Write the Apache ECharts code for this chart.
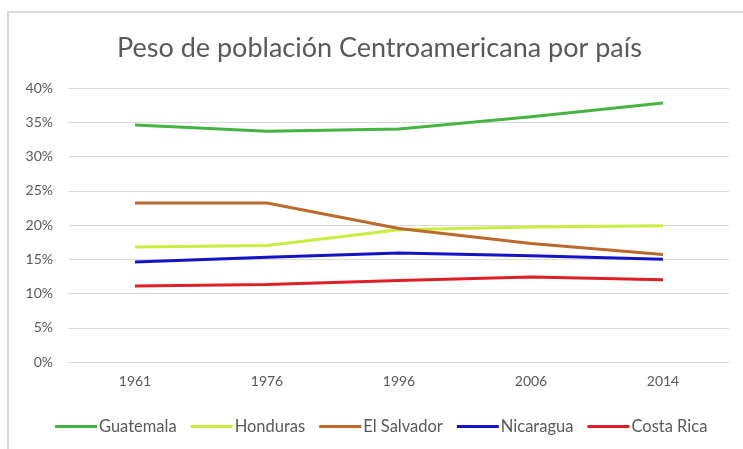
<!DOCTYPE html>
<html><head><meta charset="utf-8">
<script src="https://cdn.jsdelivr.net/npm/echarts@6/dist/echarts.min.js"></script>
<style>html,body{margin:0;padding:0;background:#fff}#c{width:743px;height:449px}</style>
</head><body><div id="c"></div>
<script>
const years = ['1961','1976','1996','2006','2014'];
const seriesNames = ['Guatemala','Honduras','El Salvador','Nicaragua','Costa Rica'];
const guatemala = [34.6, 33.7, 34.0, 35.8, 37.8];
const honduras = [16.8, 17.0, 19.3, 19.7, 19.9];
const elSalvador = [23.2, 23.2, 19.5, 17.3, 15.7];
const nicaragua = [14.6, 15.3, 15.9, 15.5, 15.0];
const costaRica = [11.1, 11.3, 11.9, 12.4, 12.0];
const yTicks = [0, 5, 10, 15, 20, 25, 30, 35, 40];

const colors = ['#45b441', '#c9ee3f', '#b96a2c', '#1414c4', '#df1f26'];
const values = [guatemala, honduras, elSalvador, nicaragua, costaRica];
const font = 'Lato, "Open Sans", sans-serif';

const chart = echarts.init(document.getElementById('c'), null, {renderer: 'canvas'});
chart.setOption({
  backgroundColor: '#fff',
  animation: false,
  graphic: [{
    type: 'rect', silent: true,
    shape: {x: 8, y: 12, width: 760, height: 460},
    style: {fill: 'none', stroke: '#d9d9d9', lineWidth: 2}
  }],
  title: {
    text: 'Peso de población Centroamericana por país',
    left: 112, top: 30,
    textStyle: {fontFamily: font, fontSize: 27, fontWeight: 'normal', color: '#595959'}
  },
  grid: {left: 69, right: 14, top: 88, bottom: 87},
  xAxis: {
    type: 'category', data: years, boundaryGap: true,
    axisLine: {show: true, lineStyle: {color: '#d9d9d9'}},
    axisTick: {show: false},
    axisLabel: {color: '#595959', fontFamily: font, fontSize: 14, margin: 12}
  },
  yAxis: {
    type: 'value', min: yTicks[0], max: yTicks[yTicks.length - 1], interval: 5,
    axisLine: {show: false}, axisTick: {show: false},
    splitLine: {lineStyle: {color: '#d9d9d9', width: 1}},
    axisLabel: {color: '#595959', fontFamily: font, fontSize: 14, margin: 16, formatter: v => v + '%'}
  },
  legend: {
    bottom: 9, left: 50,
    itemWidth: 42, itemHeight: 3, itemGap: 14,
    icon: 'rect',
    textStyle: {color: '#595959', fontFamily: font, fontSize: 16.5, padding: [0, 0, 0, -3]},
    data: seriesNames
  },
  series: seriesNames.map((n, i) => ({
    name: n, type: 'line', data: values[i],
    symbol: 'none', smooth: false,
    lineStyle: {width: 3, color: colors[i]},
    itemStyle: {color: colors[i]}
  }))
});
</script></body></html>
